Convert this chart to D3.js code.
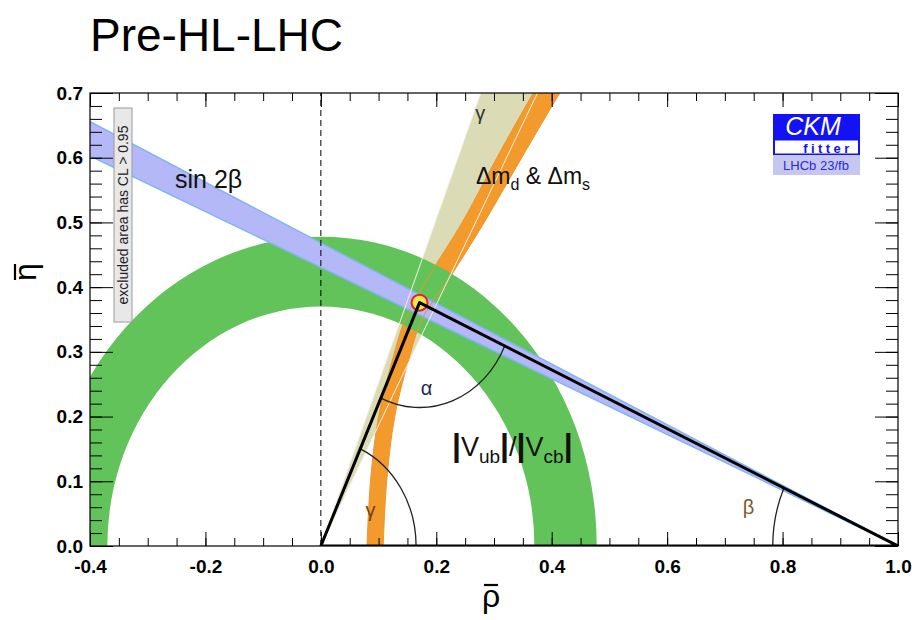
<!DOCTYPE html>
<html>
<head>
<meta charset="utf-8">
<title>Pre-HL-LHC CKM fit</title>
<style>
  body { margin: 0; background: #fff; }
  svg { display: block; font-family: "Liberation Sans", Arial, sans-serif; }
</style>
</head>
<body>
<svg width="912" height="620"></svg>
<script src="https://cdn.jsdelivr.net/npm/d3@7"></script>
<script>
// ---- data ----
var xMajor = [-0.4, -0.2, 0.0, 0.2, 0.4, 0.6, 0.8, 1.0];
var xTickLabels = ["-0.4", "-0.2", "0.0", "0.2", "0.4", "0.6", "0.8", "1.0"];
var yMajor = [0.0, 0.1, 0.2, 0.3, 0.4, 0.5, 0.6, 0.7];
var yTickLabels = ["0.0", "0.1", "0.2", "0.3", "0.4", "0.5", "0.6", "0.7"];

var apex = [0.171, 0.376];            // fitted (rho, eta)
var vubRadius = [0.370, 0.478];       // |Vub|/|Vcb| ring, radii around (0,0)
var gammaDeg = [61.8, 68.4];          // gamma band, angles at (0,0)
var betaDeg = [23.3, 25.1];           // sin 2beta band, angles at (1,0)

// dm_d & dm_s band, edges at given eta
var dmEta   = [0.0,   0.1,   0.2,   0.3,   0.35,  0.424, 0.5,   0.6,   0.7,   0.73];
var dmOuter = [0.080, 0.086, 0.100, 0.128, 0.146, 0.192, 0.245, 0.305, 0.368, 0.388];
var dmInner = [0.108, 0.114, 0.128, 0.156, 0.175, 0.230, 0.283, 0.348, 0.414, 0.435];

var arcRadius = { alpha: 0.162, beta: 0.217, gamma: 0.165 };

// ---- layout ----
var svg = d3.select("svg");
var x = d3.scaleLinear().domain([-0.4, 1.0]).range([90, 898]);
var y = d3.scaleLinear().domain([0, 0.7]).range([546, 93]);
var rad = Math.PI / 180;

svg.append("defs").append("clipPath").attr("id", "plot")
  .append("rect")
  .attr("x", x(-0.4)).attr("y", y(0.7))
  .attr("width", x(1.0) - x(-0.4)).attr("height", y(0) - y(0.7));

var g = svg.append("g").attr("clip-path", "url(#plot)");

var line = d3.line().x(function(d){ return x(d[0]); }).y(function(d){ return y(d[1]); });

function ray(o, deg, len) {
  return [o[0] + len * Math.cos(deg * rad), o[1] + len * Math.sin(deg * rad)];
}

// ellipse in pixels for a circle in data units
function ellipse(c, r) {
  var px = x(c[0]), py = y(c[1]);
  var rx = x(c[0] + r) - px, ry = py - y(c[1] + r);
  return "M" + (px + rx) + "," + py +
    "A" + rx + "," + ry + " 0 1 0 " + (px - rx) + "," + py +
    "A" + rx + "," + ry + " 0 1 0 " + (px + rx) + "," + py + "Z";
}
// arc of a data circle from angle a0 to a1 (counter clockwise)
function arc(c, r, a0, a1) {
  var p0 = ray(c, a0, r), p1 = ray(c, a1, r);
  var rx = x(c[0] + r) - x(c[0]), ry = y(c[1]) - y(c[1] + r);
  return "M" + x(p0[0]) + "," + y(p0[1]) +
    "A" + rx + "," + ry + " 0 0 0 " + x(p1[0]) + "," + y(p1[1]);
}

// gamma band
var origin = [0, 0], corner = [1, 0];
var gammaPoly = [origin, ray(origin, gammaDeg[0], 2), ray(origin, gammaDeg[1], 2)];
g.append("path").attr("d", line(gammaPoly) + "Z").attr("fill", "#dbdcb6");

// dm band
var dmPts = dmEta.map(function(e, i){ return { eta: e, lo: dmOuter[i], hi: dmInner[i] }; });
var dmArea = d3.area()
  .y(function(d){ return y(d.eta); })
  .x0(function(d){ return x(d.lo); })
  .x1(function(d){ return x(d.hi); })
  .curve(d3.curveCatmullRom);
g.append("path").attr("d", dmArea(dmPts)).attr("fill", "#f39a2d");

// |Vub|/|Vcb| ring
g.append("path")
  .attr("d", ellipse(origin, vubRadius[1]) + ellipse(origin, vubRadius[0]))
  .attr("fill-rule", "evenodd")
  .attr("fill", "#62c35a");

// sin 2beta band
var betaPoly = [corner, ray(corner, 180 - betaDeg[0], 2), ray(corner, 180 - betaDeg[1], 2)];
g.append("path").attr("d", line(betaPoly) + "Z").attr("fill", "#b4b8f6");
betaDeg.forEach(function(b){
  g.append("path").attr("d", line([corner, ray(corner, 180 - b, 2)]))
    .attr("stroke", "#80b4f4").attr("stroke-width", 1.5).attr("fill", "none");
});

// band edge lines drawn on top
var edgeLine = d3.line().y(function(d){ return y(d[1]); }).x(function(d){ return x(d[0]); })
  .curve(d3.curveCatmullRom);
g.append("path").attr("d", edgeLine(dmEta.map(function(e, i){ return [dmOuter[i], e]; })))
  .attr("stroke", "#eb9530").attr("stroke-width", 1).attr("fill", "none");
g.append("path").attr("d", edgeLine(dmEta.map(function(e, i){ return [dmInner[i], e]; })))
  .attr("stroke", "#eb9530").attr("stroke-width", 1).attr("fill", "none");
gammaDeg.forEach(function(a){
  g.append("path").attr("d", line([origin, ray(origin, a, 2)]))
    .attr("stroke", "#f2f2e4").attr("stroke-width", 1).attr("fill", "none");
});

// rho = 0 dashed line
g.append("line")
  .attr("x1", x(0)).attr("x2", x(0)).attr("y1", y(0)).attr("y2", y(0.7))
  .attr("stroke", "#000").attr("stroke-width", 1).attr("stroke-dasharray", "6,4");

// angle arcs
var aLeft = Math.atan2(apex[1], apex[0]) / rad;
var aRight = Math.atan2(apex[1], 1 - apex[0]) / rad;
g.append("path").attr("d", arc(origin, arcRadius.gamma, 0, aLeft));
g.append("path").attr("d", arc(apex, arcRadius.alpha, 180 + aLeft, 360 - aRight));
g.append("path").attr("d", arc(corner, arcRadius.beta, 180 - aRight, 180));
g.selectAll("path:not([fill])").attr("fill", "none").attr("stroke", "#222").attr("stroke-width", 1.3);

// apex marker
g.append("circle").attr("cx", x(apex[0])).attr("cy", y(apex[1])).attr("r", 8)
  .attr("fill", "#f7e64a").attr("stroke", "#e3242b").attr("stroke-width", 2);

// triangle
g.append("path").attr("d", line([origin, apex, corner]) + "Z")
  .attr("fill", "none").attr("stroke", "#000").attr("stroke-width", 3).attr("stroke-linejoin", "round");

// labels inside plot
function label(txt, p, size, color) {
  return svg.append("text").attr("x", x(p[0])).attr("y", y(p[1]))
    .attr("dy", "0.35em").attr("text-anchor", "middle")
    .attr("font-size", size).attr("fill", color).text(txt);
}
label("α", [0.183, 0.244], 20, "#1c2a5a");
label("β", [0.741, 0.061], 20, "#7a5a30");
label("γ", [0.086, 0.056], 20, "#7a4010");
label("γ", [0.276, 0.669], 20, "#333");

svg.append("text").attr("x", 175).attr("y", 188).attr("font-size", 25).attr("fill", "#111")
  .text("sin 2β");

var dm = svg.append("text").attr("x", 476).attr("y", 184).attr("font-size", 23).attr("fill", "#111");
dm.append("tspan").text("Δm");
dm.append("tspan").attr("dy", 6).attr("font-size", 16).text("d");
dm.append("tspan").attr("dy", -6).text(" & Δm");
dm.append("tspan").attr("dy", 6).attr("font-size", 16).text("s");

var vub = svg.append("text").attr("x", 452).attr("y", 456).attr("font-size", 27).attr("fill", "#111");
[["|", 0], ["V", 0], ["ub", 1], ["|", 0], ["/", 0], ["|", 0], ["V", 0], ["cb", 1], ["|", 0]]
  .forEach(function(p, i, arr){
    var prevSub = i > 0 && arr[i - 1][1];
    var t = vub.append("tspan").text(p[0]);
    if (p[0] === "|") t.attr("font-weight", "bold").attr("font-size", 32);
    if (p[1]) t.attr("font-size", 19).attr("dy", 7);
    else if (prevSub) t.attr("dy", -7);
  });

// excluded area box
svg.append("rect").attr("x", 114).attr("y", 108).attr("width", 18).attr("height", 214)
  .attr("fill", "#e8e8e8").attr("stroke", "#9a9a9a").attr("stroke-width", 1);
svg.append("text").attr("transform", "translate(123,215) rotate(-90)")
  .attr("text-anchor", "middle").attr("dy", "0.35em").attr("font-size", 14).attr("fill", "#222")
  .text("excluded area has CL > 0.95");

// axes
function styleAxis(sel) {
  sel.select(".domain").remove();
  sel.selectAll(".tick line").attr("stroke", "#000").attr("stroke-width", 1);
  sel.selectAll(".tick text").attr("font-family", "Liberation Sans, Arial, sans-serif")
    .attr("font-weight", "bold").attr("font-size", 19).attr("fill", "#000");
}
var xMinor = d3.range(-0.4, 1.0001, 0.05).map(function(v){ return +v.toFixed(2); });
var yMinor = d3.range(0, 0.7001, 0.02).map(function(v){ return +v.toFixed(2); });

svg.append("g").attr("transform", "translate(0," + y(0) + ")")
  .call(d3.axisBottom(x).tickValues(xMajor).tickSize(-14).tickPadding(14)
    .tickFormat(function(d, i){ return xTickLabels[i]; })).call(styleAxis);
svg.append("g").attr("transform", "translate(0," + y(0) + ")")
  .call(d3.axisBottom(x).tickValues(xMinor).tickSize(-8).tickFormat("")).call(styleAxis);
svg.append("g").attr("transform", "translate(0," + y(0.7) + ")")
  .call(d3.axisTop(x).tickValues(xMajor).tickSize(-14).tickFormat("")).call(styleAxis);
svg.append("g").attr("transform", "translate(0," + y(0.7) + ")")
  .call(d3.axisTop(x).tickValues(xMinor).tickSize(-8).tickFormat("")).call(styleAxis);

svg.append("g").attr("transform", "translate(" + x(-0.4) + ",0)")
  .call(d3.axisLeft(y).tickValues(yMajor).tickSize(-23).tickPadding(7)
    .tickFormat(function(d, i){ return yTickLabels[i]; })).call(styleAxis);
svg.append("g").attr("transform", "translate(" + x(-0.4) + ",0)")
  .call(d3.axisLeft(y).tickValues(yMinor).tickSize(-12).tickFormat("")).call(styleAxis);
svg.append("g").attr("transform", "translate(" + x(1.0) + ",0)")
  .call(d3.axisRight(y).tickValues(yMajor).tickSize(-23).tickFormat("")).call(styleAxis);
svg.append("g").attr("transform", "translate(" + x(1.0) + ",0)")
  .call(d3.axisRight(y).tickValues(yMinor).tickSize(-12).tickFormat("")).call(styleAxis);

// frame
svg.append("rect").attr("x", x(-0.4)).attr("y", y(0.7))
  .attr("width", x(1.0) - x(-0.4)).attr("height", y(0) - y(0.7))
  .attr("fill", "none").attr("stroke", "#000").attr("stroke-width", 1.2);

// axis titles (bar drawn as a short stroke above the letter)
svg.append("text").attr("x", 491).attr("y", 607).attr("text-anchor", "middle")
  .attr("font-size", 32).text("ρ");
svg.append("line").attr("x1", 484).attr("x2", 498).attr("y1", 585).attr("y2", 585)
  .attr("stroke", "#000").attr("stroke-width", 2.2);
svg.append("text").attr("transform", "translate(36,272) rotate(-90)")
  .attr("text-anchor", "middle").attr("font-size", 32).text("η");
svg.append("line").attr("x1", 15).attr("x2", 15).attr("y1", 264).attr("y2", 280)
  .attr("stroke", "#000").attr("stroke-width", 2.2);

// title
svg.append("text").attr("x", 90).attr("y", 51).attr("font-size", 46).attr("fill", "#000")
  .text("Pre-HL-LHC");

// CKMfitter logo
var logo = svg.append("g");
logo.append("rect").attr("x", 773).attr("y", 114).attr("width", 87).attr("height", 41).attr("fill", "#1212f5");
logo.append("rect").attr("x", 775).attr("y", 140.5).attr("width", 83).attr("height", 13).attr("fill", "#fff");
logo.append("rect").attr("x", 773).attr("y", 155).attr("width", 87).attr("height", 20).attr("fill", "#c6c7f0");
logo.append("text").attr("x", 813).attr("y", 135).attr("text-anchor", "middle")
  .attr("font-size", 25).attr("font-style", "italic").attr("fill", "#fff").text("CKM");
logo.append("text").attr("x", 828).attr("y", 153).attr("text-anchor", "middle")
  .attr("font-size", 13).attr("font-weight", "bold").attr("letter-spacing", 3.4).attr("fill", "#1212f5").text("fitter");
logo.append("text").attr("x", 816).attr("y", 170).attr("text-anchor", "middle")
  .attr("font-size", 13).attr("fill", "#2a2ad8").text("LHCb 23/fb");
</script>
</body>
</html>
